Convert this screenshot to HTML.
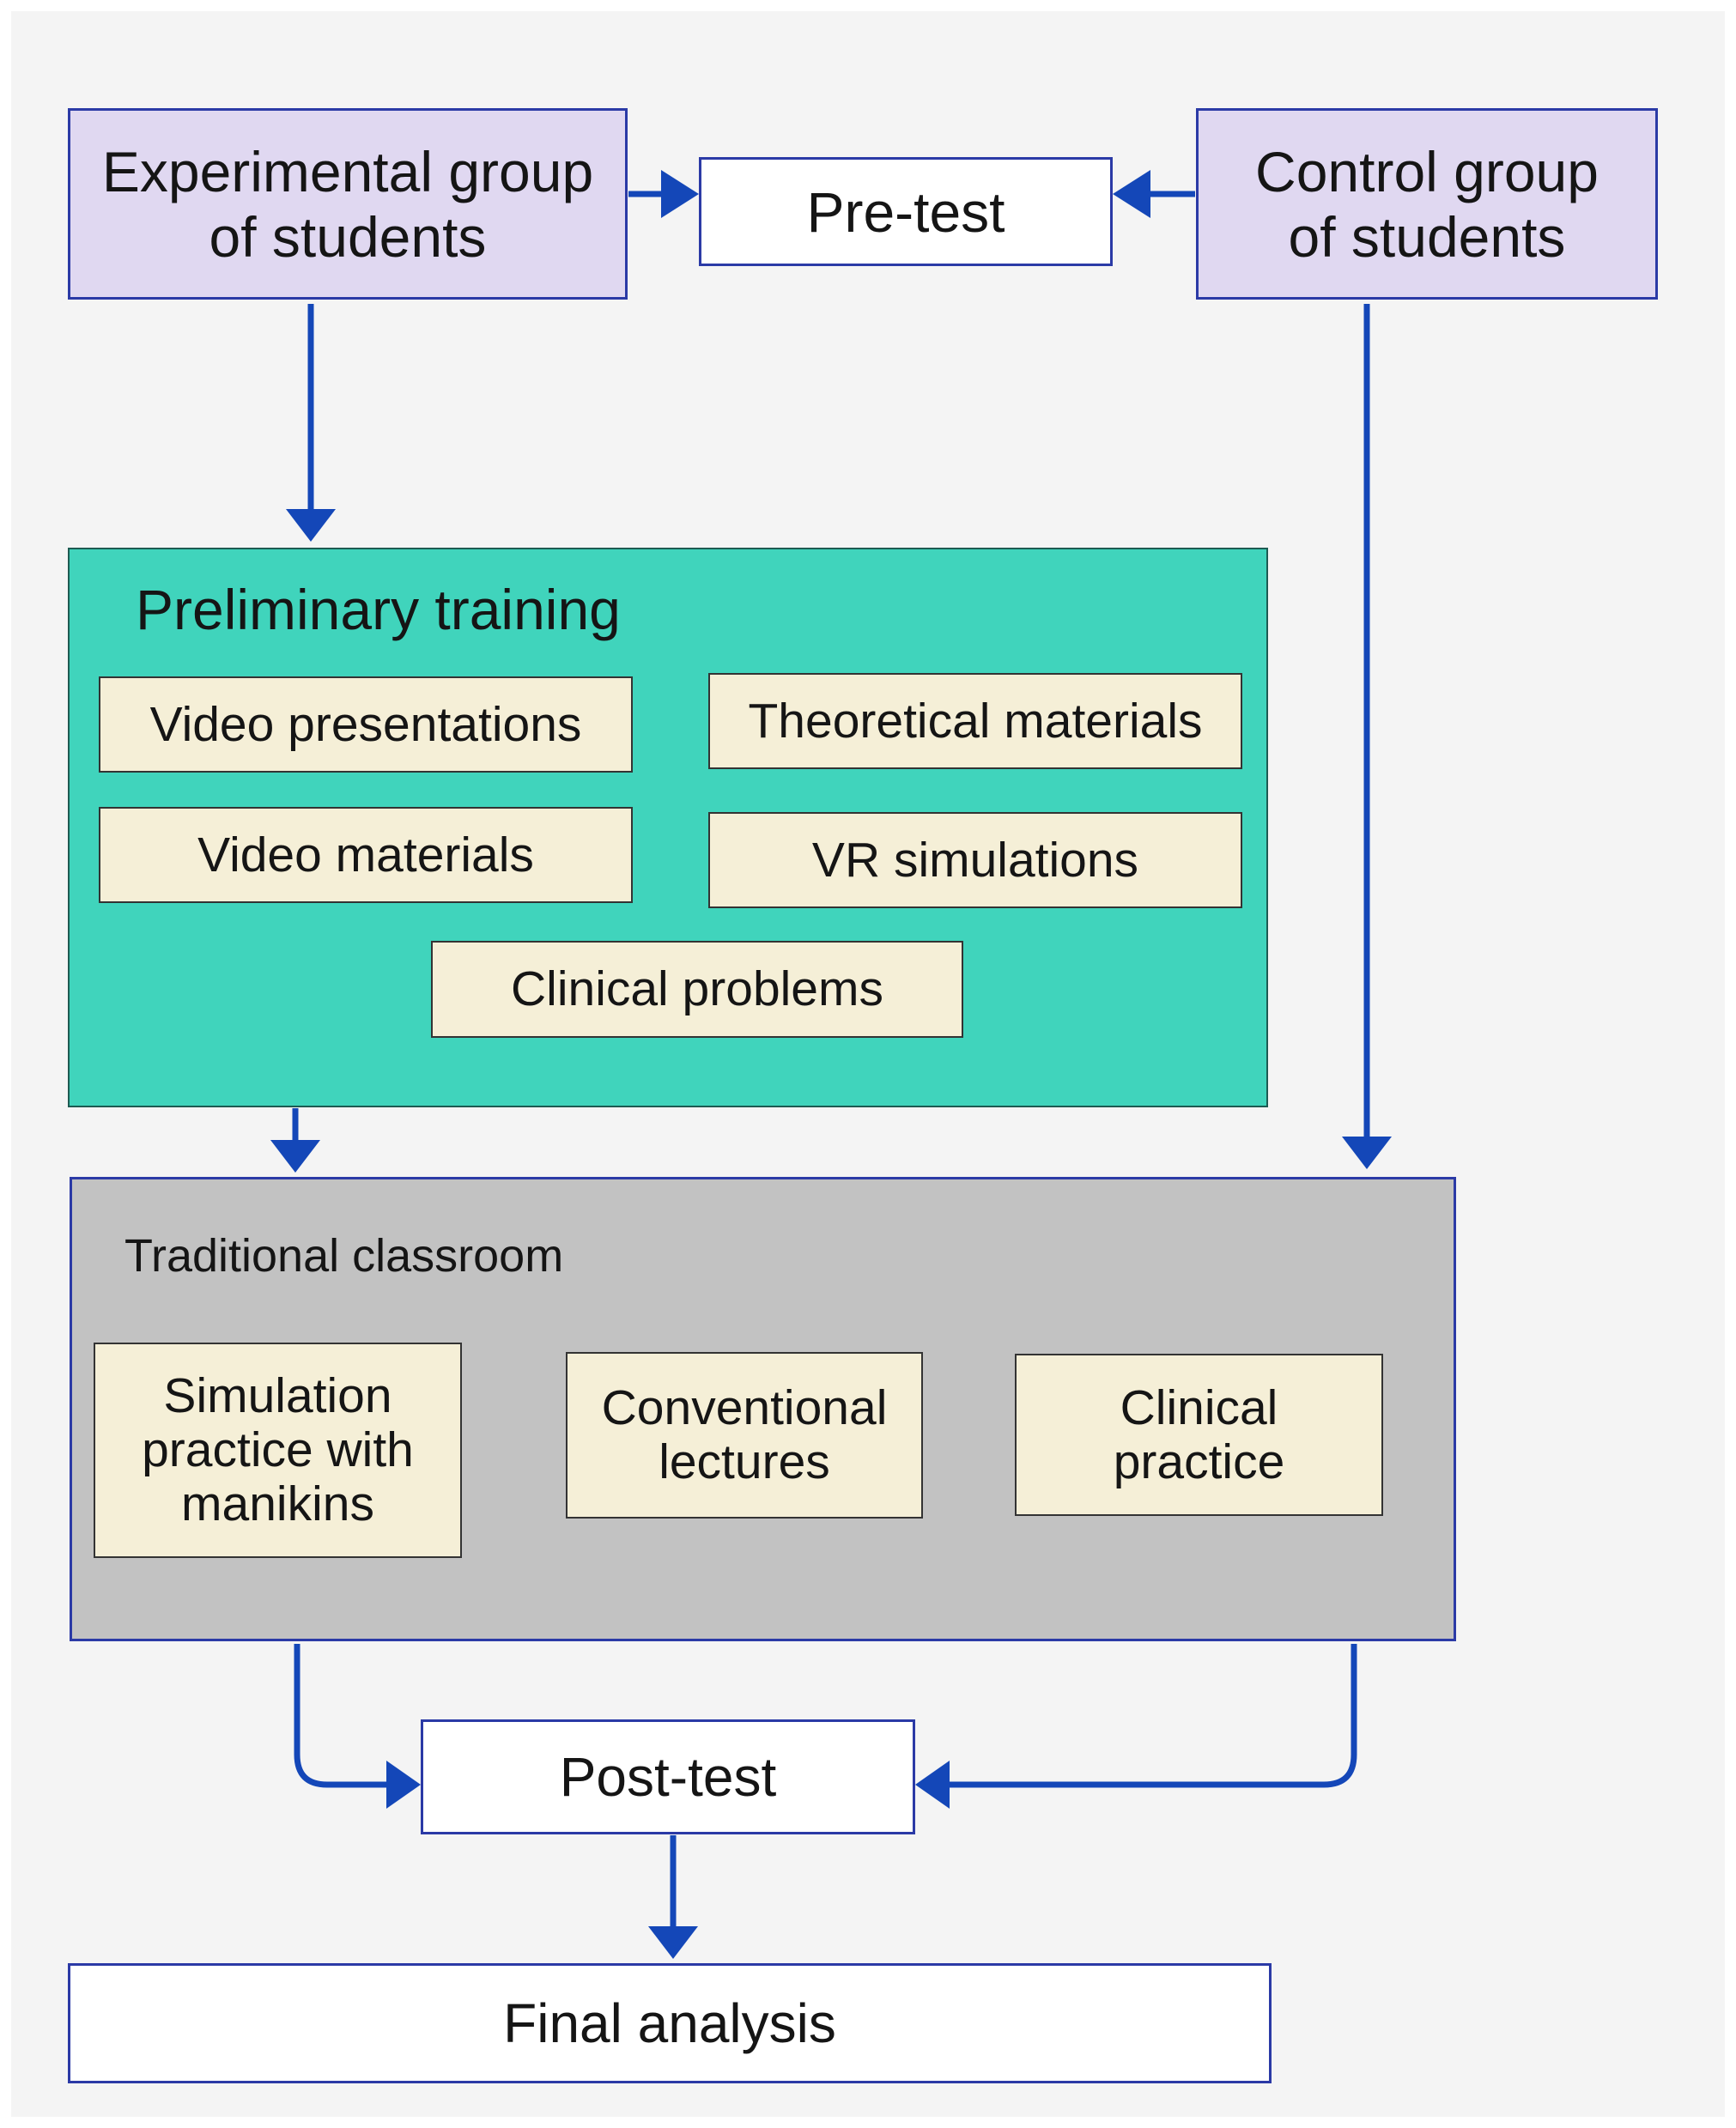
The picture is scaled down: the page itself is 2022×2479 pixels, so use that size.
<!DOCTYPE html>
<html><head><meta charset="utf-8"><style>
html,body{margin:0;padding:0}
body{width:2022px;height:2479px;background:#fff;position:relative;overflow:hidden;font-family:"Liberation Sans",Arial,sans-serif;color:#151515}
.bg{position:absolute;left:13px;top:13px;width:1996px;height:2453px;background:#f4f4f4}
.b{position:absolute;box-sizing:border-box;display:flex;align-items:center;justify-content:center;text-align:center}
.grp{background:#e0d8f1;border:3px solid #2b3aa6;font-size:66px;line-height:76px}
.wt{background:#fff;border:3px solid #2b3aa6;font-size:66px}
.in{background:#f5efd7;border:2.5px solid #333;font-size:57px;line-height:63px}
svg{position:absolute;left:0;top:0}
</style></head><body>
<div class="bg"></div>
<div class="b grp" style="left:79px;top:126px;width:652px;height:223px">Experimental group<br>of students</div>
<div class="b wt" style="left:814px;top:183px;width:482px;height:127px">Pre-test</div>
<div class="b grp" style="left:1393px;top:126px;width:538px;height:223px">Control group<br>of students</div>

<div class="b" style="left:79px;top:638px;width:1398px;height:652px;background:#40d4bc;border:2.5px solid #1d5a52"></div>
<div style="position:absolute;left:158px;top:672px;font-size:66px">Preliminary training</div>
<div class="b in" style="left:115px;top:788px;width:622px;height:112px">Video presentations</div>
<div class="b in" style="left:825px;top:784px;width:622px;height:112px">Theoretical materials</div>
<div class="b in" style="left:115px;top:940px;width:622px;height:112px">Video materials</div>
<div class="b in" style="left:825px;top:946px;width:622px;height:112px">VR simulations</div>
<div class="b in" style="left:502px;top:1096px;width:620px;height:113px">Clinical problems</div>

<div class="b" style="left:81px;top:1371px;width:1615px;height:541px;background:#c2c2c2;border:3px solid #2b3aa6"></div>
<div style="position:absolute;left:145px;top:1432px;font-size:54px">Traditional classroom</div>
<div class="b in" style="left:109px;top:1564px;width:429px;height:251px">Simulation<br>practice with<br>manikins</div>
<div class="b in" style="left:659px;top:1575px;width:416px;height:194px">Conventional<br>lectures</div>
<div class="b in" style="left:1182px;top:1577px;width:429px;height:189px">Clinical<br>practice</div>

<div class="b wt" style="left:490px;top:2003px;width:576px;height:134px;font-size:64px">Post-test</div>
<div class="b wt" style="left:79px;top:2287px;width:1402px;height:140px;font-size:64px">Final analysis</div>

<svg width="2022" height="2479" viewBox="0 0 2022 2479">
<g stroke="#1447b8" stroke-width="7" fill="none">
<line x1="732" y1="226" x2="770" y2="226"/>
<line x1="1392" y1="226" x2="1340" y2="226"/>
<line x1="362" y1="354" x2="362" y2="595"/>
<line x1="344" y1="1291" x2="344" y2="1330"/>
<line x1="1592" y1="354" x2="1592" y2="1328"/>
<path d="M346 1915 V2044 Q346 2079 381 2079 H450"/>
<path d="M1577 1915 V2044 Q1577 2079 1542 2079 H1105"/>
<line x1="784" y1="2138" x2="784" y2="2245"/>
</g>
<g fill="#1447b8">
<polygon points="814,226 770,198 770,254"/>
<polygon points="1296,226 1340,198 1340,254"/>
<polygon points="362,631 333,593 391,593"/>
<polygon points="344,1366 315,1328 373,1328"/>
<polygon points="1592,1362 1563,1324 1621,1324"/>
<polygon points="490,2079 450,2051 450,2107"/>
<polygon points="1066,2079 1106,2051 1106,2107"/>
<polygon points="784,2282 755,2244 813,2244"/>
</g>
</svg>
</body></html>
